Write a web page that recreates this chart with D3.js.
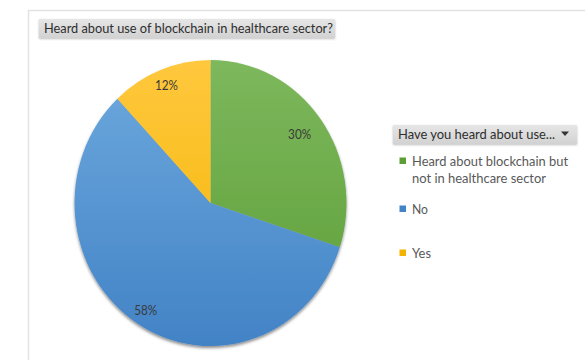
<!DOCTYPE html>
<html>
<head>
<meta charset="utf-8">
<script src="https://cdn.jsdelivr.net/npm/d3@7"></script>
<style>
  html, body { margin: 0; padding: 0; background: #fff; }
  svg { display: block; }
  text { font-family: Lato, "Open Sans", "Noto Sans", sans-serif; }
</style>
</head>
<body>
<svg id="chart" width="585" height="360"></svg>
<script>
// Survey answers, in drawing order (clockwise from 12 o'clock)
const categories = ["Heard about blockchain but not in healthcare sector", "No", "Yes"];
const shares = [30, 58, 12];
const labels = ["30%", "58%", "12%"];
const legendLines = [["Heard about blockchain but", "not in healthcare sector"], ["No"], ["Yes"]];
const title = "Heard about use of blockchain in healthcare sector?";
const legendTitle = "Have you heard about use...";

const palette = {
  "Heard about blockchain but not in healthcare sector": ["#7db85d", "#5c9d35"],
  "No": ["#6ea9de", "#4283c6"],
  "Yes": ["#ffc83d", "#f2b400"]
};

const svg = d3.select("#chart");
const defs = svg.append("defs");

// Fit a text element to a given width (narrow UI face)
function fit(sel, w) {
  return sel.attr("textLength", w).attr("lengthAdjust", "spacingAndGlyphs");
}

// Plot frame: light gray rule along top and left
svg.append("line").attr("x1", 28).attr("y1", 10.5).attr("x2", 585).attr("y2", 10.5)
  .attr("stroke", "#e2e2e2").attr("stroke-width", 1.5);
svg.append("line").attr("x1", 28.5).attr("y1", 10).attr("x2", 28.5).attr("y2", 360)
  .attr("stroke", "#e2e2e2").attr("stroke-width", 1.5);

// Gray button-style gradient for the title and legend header
const btn = defs.append("linearGradient").attr("id", "btn").attr("x1", 0).attr("y1", 0).attr("x2", 0).attr("y2", 1);
btn.append("stop").attr("offset", "0%").attr("stop-color", "#e6e6e6");
btn.append("stop").attr("offset", "100%").attr("stop-color", "#d2d2d2");

const soft = defs.append("filter").attr("id", "soft").attr("x", "-10%").attr("y", "-20%").attr("width", "120%").attr("height", "150%");
soft.append("feDropShadow").attr("dx", 0).attr("dy", 1).attr("stdDeviation", 0.8)
  .attr("flood-color", "#000").attr("flood-opacity", 0.25);

// Title button
svg.append("rect").attr("x", 39).attr("y", 19).attr("width", 296).attr("height", 19)
  .attr("fill", "url(#btn)").attr("filter", "url(#soft)");
fit(svg.append("text").attr("x", 44).attr("y", 33).attr("font-size", 13.5)
  .attr("fill", "#2e2e2e").text(title), 289);

// Pie
const cx = 210.5, cy = 203, ry = 143, rx = 136;

const shadow = defs.append("filter").attr("id", "pieShadow").attr("x", "-20%").attr("y", "-20%").attr("width", "140%").attr("height", "140%");
shadow.append("feDropShadow").attr("dx", 0).attr("dy", 2).attr("stdDeviation", 1.8)
  .attr("flood-color", "#000").attr("flood-opacity", 0.45);

categories.forEach((c, i) => {
  const g = defs.append("linearGradient").attr("id", "grad" + i)
    .attr("gradientUnits", "userSpaceOnUse")
    .attr("x1", 0).attr("y1", -ry).attr("x2", 0).attr("y2", ry);
  g.append("stop").attr("offset", "0%").attr("stop-color", palette[c][0]);
  g.append("stop").attr("offset", "100%").attr("stop-color", palette[c][1]);
});

const pie = d3.pie().sort(null).value(d => d)(shares);
const arc = d3.arc().innerRadius(0).outerRadius(ry);

const pieG = svg.append("g")
  .attr("transform", `translate(${cx},${cy}) scale(${rx / ry},1)`);

pieG.append("g").attr("filter", "url(#pieShadow)")
  .selectAll("path").data(pie).join("path")
  .attr("d", arc)
  .attr("fill", (d, i) => `url(#grad${i})`);

// Data labels, placed along each slice's mid-angle
const labelRadius = [0.81, 0.89, 0.88];
pie.forEach((d, i) => {
  const mid = (d.startAngle + d.endAngle) / 2;
  const r = ry * labelRadius[i];
  const x = cx + Math.sin(mid) * r * (rx / ry);
  const y = cy - Math.cos(mid) * r;
  fit(svg.append("text").attr("x", x - 11.5).attr("y", y)
    .attr("dominant-baseline", "central")
    .attr("font-size", 12.5).attr("fill", "#3a3a3a")
    .text(labels[i]), 23);
});

// Legend header button with dropdown arrow
svg.append("rect").attr("x", 393).attr("y", 125).attr("width", 184).attr("height", 19)
  .attr("fill", "url(#btn)").attr("filter", "url(#soft)");
fit(svg.append("text").attr("x", 398).attr("y", 139).attr("font-size", 13.5)
  .attr("fill", "#2e2e2e").text(legendTitle), 157);
svg.append("path").attr("d", "M561,131.5 L569,131.5 L565,136 Z").attr("fill", "#333");

// Legend entries
const legendY = [162, 210, 254];
const legendWidths = [[156, 134], [16], [19]];
categories.forEach((c, i) => {
  svg.append("rect").attr("x", 399.5).attr("y", legendY[i] - 4.5).attr("width", 6.5).attr("height", 6.5)
    .attr("fill", palette[c][1]);
  legendLines[i].forEach((line, j) => {
    fit(svg.append("text").attr("x", 412).attr("y", legendY[i] + 3.5 + j * 17)
      .attr("font-size", 13.5).attr("fill", "#595959").text(line), legendWidths[i][j]);
  });
});
</script>
</body>
</html>
